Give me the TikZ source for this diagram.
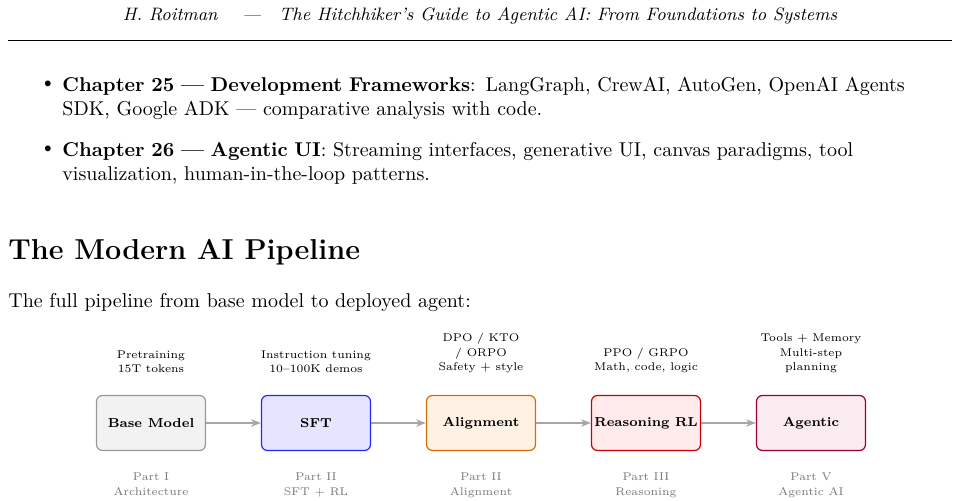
\documentclass[tikz,border=0pt]{standalone}
\usetikzlibrary{arrows.meta}

\definecolor{stagegray}{RGB}{120,120,120}

\tikzset{
  stage/.style={draw, rounded corners=3pt, line width=0.6pt, minimum width=54.5pt,
    minimum height=27.5pt, inner xsep=1pt, font=\fontsize{6.5}{8}\selectfont\bfseries},
  note/.style={font=\fontsize{5.6}{7.3}\selectfont, align=center, anchor=south},
  part/.style={font=\fontsize{5.6}{7.3}\selectfont, align=center, anchor=north, text=stagegray},
  flow/.style={-{Stealth[length=5pt]}, black!35, line width=0.6pt}
}

\begin{document}
\begin{tikzpicture}[x=0.5pt, y=-0.5pt]

\useasboundingbox (0,0) rectangle (960,501);

% page header
\node (header) at (480,16) {\small\itshape H. Roitman \quad---\quad The Hitchhiker's Guide to Agentic AI: From Foundations to Systems};
\draw [line width=0.4pt] (8,40) -- (952,40);

% bullets
\node (dot1) at (48,85) {\textbullet};
\node [anchor=north west, inner sep=0pt, text width=445pt] (item1) at (62,77)
  {\textbf{Chapter 25 --- Development Frameworks}: LangGraph, CrewAI, AutoGen, OpenAI Agents SDK, Google ADK --- comparative analysis with code.};
\node (dot2) at (48,150) {\textbullet};
\node [anchor=north west, inner sep=0pt, text width=445pt] (item2) at (62,142)
  {\textbf{Chapter 26 --- Agentic UI}: Streaming interfaces, generative UI, canvas paradigms, tool \mbox{visualization}, human-in-the-loop patterns.};

% section
\node [anchor=base west, inner sep=0pt, font=\Large\bfseries] (title) at (8,260) {The Modern AI Pipeline};
\node [anchor=base west, inner sep=0pt] (intro) at (8,308) {The full pipeline from base model to deployed agent:};

% pipeline
\node [stage, fill=black!5, draw=black!40] (base) at (151,423) {Base Model};
\node [stage, fill=blue!10, draw=blue!85] (sft) at (316,423) {SFT};
\node [stage, fill=orange!10, draw=orange!85!black] (align) at (481,423) {Alignment};
\node [stage, fill=red!8, draw=red!80!black] (rl) at (646,423) {Reasoning RL};
\node [stage, fill=purple!8, draw=purple!80!black] (agent) at (811,423) {Agentic};

\draw [flow] (base) -- (sft);
\draw [flow] (sft) -- (align);
\draw [flow] (align) -- (rl);
\draw [flow] (rl) -- (agent);

\node [note] (n1) at (151,380) {Pretraining\\15T tokens};
\node [note] (n2) at (316,380) {Instruction tuning\\10--100K demos};
\node [note] (n3) at (481,380) {DPO / KTO\\/ ORPO\\Safety + style};
\node [note] (n4) at (646,380) {PPO / GRPO\\Math, code, logic};
\node [note] (n5) at (811,380) {Tools + Memory\\Multi-step\\planning};

\node [part] (p1) at (151,466) {Part I\\Architecture};
\node [part] (p2) at (316,466) {Part II\\SFT + RL};
\node [part] (p3) at (481,466) {Part II\\Alignment};
\node [part] (p4) at (646,466) {Part III\\Reasoning};
\node [part] (p5) at (811,466) {Part V\\Agentic AI};

\end{tikzpicture}
\end{document}
